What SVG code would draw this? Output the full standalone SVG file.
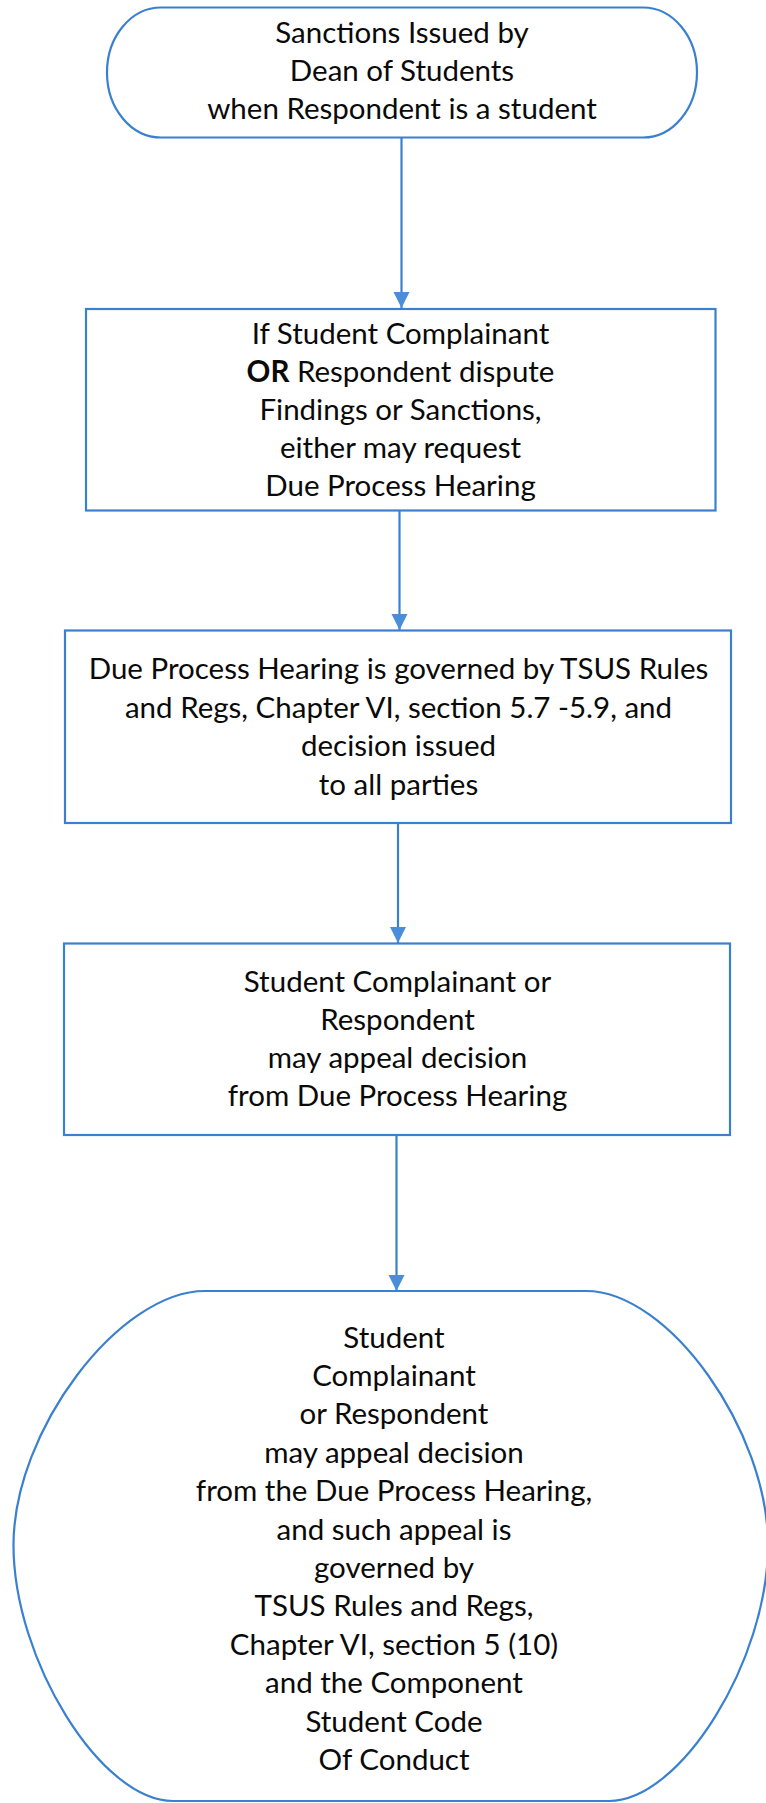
<svg xmlns="http://www.w3.org/2000/svg" width="766" height="1803" viewBox="0 0 766 1803">
<style>
.shape{fill:#ffffff;stroke:#3a80d0;stroke-width:2.2}
.conn{stroke:#3a80d0;stroke-width:2.2;fill:none}
.t{font-family:Lato,"Liberation Sans",sans-serif;font-size:29.5px;fill:#0a0a0a;text-anchor:middle}
.b{font-weight:bold}
</style>
<defs>
<marker id="arr" markerUnits="userSpaceOnUse" viewBox="0 0 16 16" refX="16" refY="8" markerWidth="16" markerHeight="17" orient="auto">
<path d="M0,0 L16,8 L0,16 Z" fill="#4a8dd8"/>
</marker>
</defs>
<rect width="766" height="1803" fill="#ffffff"/>
<g id="connectors">
<line class="conn" x1="401.5" y1="138" x2="401.5" y2="308" marker-end="url(#arr)"/>
<line class="conn" x1="399.5" y1="511" x2="399.5" y2="630" marker-end="url(#arr)"/>
<line class="conn" x1="398" y1="823" x2="398" y2="943" marker-end="url(#arr)"/>
<line class="conn" x1="396.5" y1="1136" x2="396.5" y2="1291" marker-end="url(#arr)"/>
</g>
<g id="n1">
<rect class="shape" x="107" y="7.5" width="590" height="130" rx="54" ry="65"/>
<text class="t" x="402" y="43">Sanctions Issued by</text>
<text class="t" x="402" y="81">Dean of Students</text>
<text class="t" x="402" y="119">when Respondent is a student</text>
</g>
<g id="n2">
<rect class="shape" x="86" y="309" width="629.5" height="201.5"/>
<text class="t" x="400.5" y="343.5">If Student Complainant</text>
<text class="t" x="400.5" y="381.6"><tspan class="b">OR</tspan> Respondent dispute</text>
<text class="t" x="400.5" y="419.7">Findings or Sanctions,</text>
<text class="t" x="400.5" y="457.8">either may request</text>
<text class="t" x="400.5" y="496">Due Process Hearing</text>
</g>
<g id="n3">
<rect class="shape" x="65" y="630.5" width="666" height="192.5"/>
<text class="t" x="398.5" y="679">Due Process Hearing is governed by TSUS Rules</text>
<text class="t" x="398.5" y="717.5">and Regs, Chapter VI, section 5.7 -5.9, and</text>
<text class="t" x="398.5" y="756">decision issued</text>
<text class="t" x="398.5" y="794.5">to all parties</text>
</g>
<g id="n4">
<rect class="shape" x="64" y="943.5" width="666" height="191.5"/>
<text class="t" x="397.5" y="992">Student Complainant or</text>
<text class="t" x="397.5" y="1030">Respondent</text>
<text class="t" x="397.5" y="1068">may appeal decision</text>
<text class="t" x="397.5" y="1106">from Due Process Hearing</text>
</g>
<g id="n5">
<path class="shape" d="M205,1291 H586 C669,1291 768,1431 768,1545 C768,1660 681,1801 609,1801 H173 C101,1801 13.5,1660 13.5,1545 C13.5,1431 119,1291 205,1291 Z"/>
<text class="t" x="394" y="1347.5">Student</text>
<text class="t" x="394" y="1385.9">Complainant</text>
<text class="t" x="394" y="1424.3">or Respondent</text>
<text class="t" x="394" y="1462.7">may appeal decision</text>
<text class="t" x="394" y="1501.1">from the Due Process Hearing,</text>
<text class="t" x="394" y="1539.5">and such appeal is</text>
<text class="t" x="394" y="1577.9">governed by</text>
<text class="t" x="394" y="1616.3">TSUS Rules and Regs,</text>
<text class="t" x="394" y="1654.7">Chapter VI, section 5 (10)</text>
<text class="t" x="394" y="1693.1">and the Component</text>
<text class="t" x="394" y="1731.5">Student Code</text>
<text class="t" x="394" y="1769.9">Of Conduct</text>
</g>
</svg>
